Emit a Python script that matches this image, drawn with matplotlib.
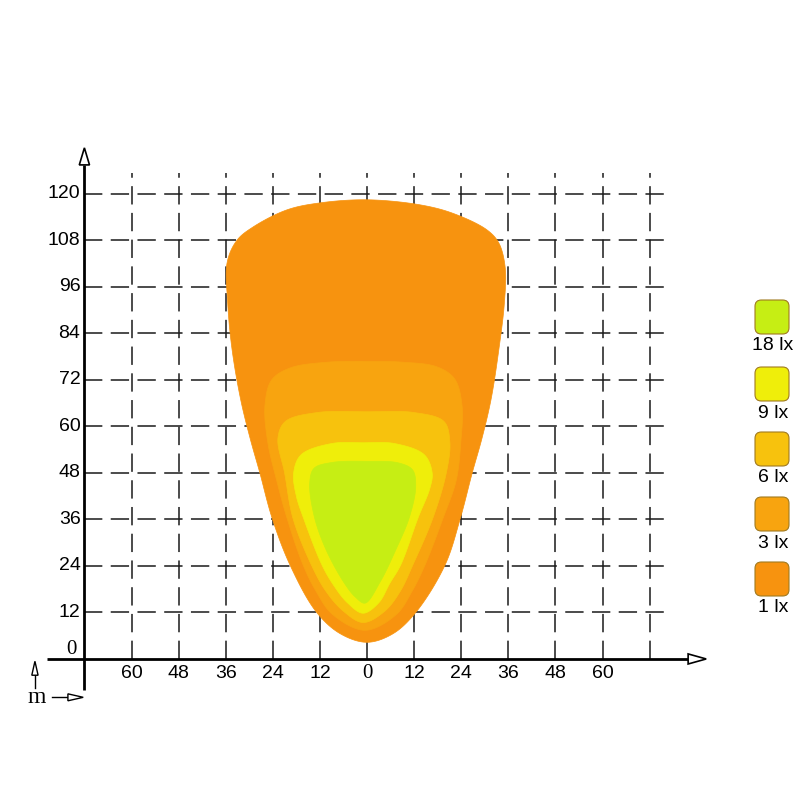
import numpy as np
import matplotlib
matplotlib.use("Agg")
import matplotlib.pyplot as plt
from matplotlib.patches import Polygon, FancyBboxPatch

# ---------------- data ----------------
x_ticks_left = [-60, -48, -36, -24, -12]
x_ticks_right = [12, 24, 36, 48, 60]
x_grid = [-60, -48, -36, -24, -12, 0, 12, 24, 36, 48, 60, 72]
y_ticks = [12, 24, 36, 48, 60, 72, 84, 96, 108, 120]

levels = ["1 lx", "3 lx", "6 lx", "9 lx", "18 lx"]
level_colors = ["#F7930F", "#F8A40F", "#F7C20D", "#EFEE0A", "#C6EE14"]

# isolux contours (x [m], y [m])
contour_1lx = [(0, 4.3), (6.6, 6.5), (12.5, 12.1), (19.9, 24.3), (23.8, 36.4), (26.8, 48),
               (29.3, 57), (31.6, 67), (33.6, 80), (35.0, 92), (35.2, 101), (33.6, 107.3),
               (30.6, 110.7), (21.9, 115), (13.5, 117.2), (0, 118.5),
               (-12, 117.7), (-20.4, 115.9), (-29, 111.5), (-33.1, 108.1), (-35.6, 102.5),
               (-35.5, 92), (-34.4, 80), (-32.2, 67), (-29.8, 57), (-27.3, 48),
               (-24.2, 36.4), (-19.6, 24.2), (-12.9, 12.1), (-6.8, 6.5)]
contour_3lx = [(-0.5, 7.4), (7.5, 11.5), (11.5, 17.5), (14.8, 24.3), (19.4, 36.4), (22.7, 46),
               (23.9, 56), (24.2, 65.5), (22.3, 72.3), (17.8, 75.4), (9, 76.6), (0, 76.8),
               (-10, 76.6), (-19.6, 75.1), (-24.3, 72), (-26, 65.5), (-25.3, 56), (-23, 46),
               (-20.4, 36.4), (-16.3, 24.3), (-13, 17.5), (-8.8, 11.5)]
contour_6lx = [(-1, 9.4), (4.5, 12.3), (8.5, 17.5), (11.7, 24.3), (16.8, 36.4), (20.2, 48),
               (21.1, 56), (19.6, 61.3), (12, 63.6), (0, 63.8), (-12.7, 63.6), (-20.8, 61.3),
               (-22.7, 57), (-21, 48), (-18.9, 36.4), (-14.2, 24.3), (-10.5, 17.5), (-6, 12.3)]
contour_9lx = [(-1, 11.8), (3, 14.5), (5.8, 19.5), (8.6, 24.3), (13, 36.4), (16, 44),
               (16.6, 48), (14.6, 52.7), (7, 55.6), (-1, 55.8), (-9, 55.6), (-16.8, 52.7),
               (-18.7, 48), (-18, 42), (-16.2, 36.4), (-11.5, 24.3), (-8.5, 19), (-5, 14.5)]
contour_18lx = [(-0.5, 14.4), (3.3, 19.8), (7.3, 28.1), (10.8, 36.6), (12.4, 44.5), (11.6, 48.8),
                (8, 50.6), (0, 51), (-9, 50.7), (-13.5, 49.2), (-14.6, 45.4), (-13.4, 36.6),
                (-10.4, 28.1), (-5.8, 19.6), (-3, 16)]
contours = [contour_1lx, contour_3lx, contour_6lx, contour_9lx, contour_18lx]


def smooth_closed(pts, n=24, alpha=0.5):
    """Centripetal Catmull-Rom through the given vertices (closed)."""
    P = np.array(pts, dtype=float)
    N = len(P)
    out = []
    for i in range(N):
        p0, p1, p2, p3 = P[i - 1], P[i], P[(i + 1) % N], P[(i + 2) % N]

        def tj(ti, pa, pb):
            return ti + max(np.linalg.norm(pb - pa), 1e-6) ** alpha
        t0 = 0.0
        t1 = tj(t0, p0, p1)
        t2 = tj(t1, p1, p2)
        t3 = tj(t2, p2, p3)
        t = np.linspace(t1, t2, n, endpoint=False)[:, None]
        A1 = (t1 - t) / (t1 - t0) * p0 + (t - t0) / (t1 - t0) * p1
        A2 = (t2 - t) / (t2 - t1) * p1 + (t - t1) / (t2 - t1) * p2
        A3 = (t3 - t) / (t3 - t2) * p2 + (t - t2) / (t3 - t2) * p3
        B1 = (t2 - t) / (t2 - t0) * A1 + (t - t0) / (t2 - t0) * A2
        B2 = (t3 - t) / (t3 - t1) * A2 + (t - t1) / (t3 - t1) * A3
        out.append((t2 - t) / (t2 - t1) * B1 + (t - t1) / (t2 - t1) * B2)
    return np.vstack(out)


fig = plt.figure(figsize=(8, 8), dpi=100)
ax = fig.add_axes([0, 0, 1, 1])
ax.set_xlim(-93.5, 110.3)
ax.set_ylim(-36.4, 170.06)
ax.axis("off")

sans = "Liberation Sans"
serif = "Liberation Serif"

# grid
for xg in x_grid:
    ax.plot([xg, xg], [0, 125.5], color="#1a1a1a", lw=1.1, dashes=(12, 5.5), zorder=1)
for yg in y_ticks:
    ax.plot([-72, 76.8], [yg, yg], color="#1a1a1a", lw=1.1, dashes=(12, 5.5), zorder=1)

# isolux areas
for i, (c, col) in enumerate(zip(contours, level_colors)):
    poly = Polygon(smooth_closed(c), closed=True, facecolor=col, edgecolor=col, lw=0.5, zorder=2 + i)
    ax.add_patch(poly)

# axes
ax.plot([-72, -72], [-8, 127.5], color="black", lw=2.0, zorder=10, solid_capstyle="butt")
ax.plot([-81.4, 81.8], [0, 0], color="black", lw=2.0, zorder=10, solid_capstyle="butt")
ax.add_patch(Polygon([(-73.3, 127.5), (-70.7, 127.5), (-72, 131.9)], closed=True,
                     facecolor="white", edgecolor="black", lw=1.2, zorder=11))
ax.add_patch(Polygon([(81.8, 1.3), (81.8, -1.3), (86.4, 0)], closed=True,
                     facecolor="white", edgecolor="black", lw=1.2, zorder=11))

# unit marker
ax.plot([-84.6, -84.6], [-7.4, -4.2], color="black", lw=1.0, zorder=10)
ax.add_patch(Polygon([(-85.4, -4.2), (-83.8, -4.2), (-84.6, -0.6)], closed=True,
                     facecolor="white", edgecolor="black", lw=1.0, zorder=11))
ax.plot([-80.3, -76.2], [-9.9, -9.9], color="black", lw=1.0, zorder=10)
ax.add_patch(Polygon([(-76.2, -9.0), (-76.2, -10.8), (-72.3, -9.9)], closed=True,
                     facecolor="white", edgecolor="black", lw=1.0, zorder=11))
ax.text(-84.2, -10.0, "m", family=serif, fontsize=17, ha="center", va="center", zorder=12)

# tick labels
for yt in y_ticks:
    ax.text(-73.0, yt, str(yt), family=sans, fontsize=14, ha="right", va="center", zorder=12)
ax.text(-75.2, 2.4, "0", family=serif, fontsize=15, ha="center", va="center", zorder=12)
for xt in x_ticks_left:
    ax.text(xt, -3.8, str(-xt), family=sans, fontsize=14, ha="center", va="center", zorder=12)
for xt in x_ticks_right:
    ax.text(xt, -3.8, str(xt), family=sans, fontsize=14, ha="center", va="center", zorder=12)
ax.text(0, -3.8, "0", family=serif, fontsize=15, ha="center", va="center", zorder=12)

# legend (top to bottom: 18, 9, 6, 3, 1 lx)
leg_top = [300, 367, 432, 497, 562]
for k, (lab, col) in enumerate(zip(levels[::-1], level_colors[::-1])):
    y0 = 1 - (leg_top[k] + 34) / 800
    box = FancyBboxPatch((755 / 800, y0), 34 / 800, 34 / 800,
                         boxstyle="round,pad=0,rounding_size=0.008",
                         transform=fig.transFigure, facecolor=col,
                         edgecolor="#A07A20", lw=0.8)
    fig.patches.append(box)
    fig.text(773 / 800, 1 - (leg_top[k] + 46) / 800, lab, family=sans, fontsize=14,
             ha="center", va="center")

fig.savefig("out.png", dpi=100)
